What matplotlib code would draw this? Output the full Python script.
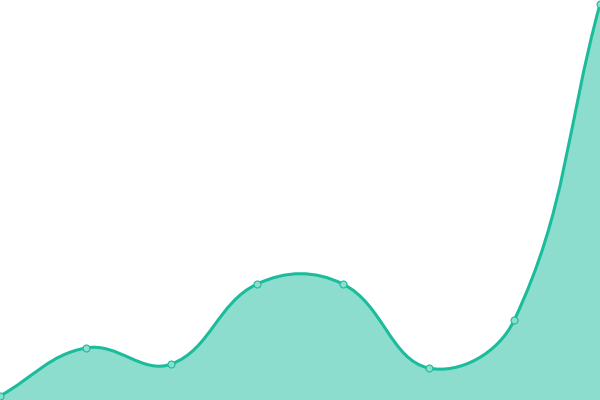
import matplotlib
matplotlib.use("Agg")
import matplotlib.pyplot as plt
import numpy as np
from matplotlib.path import Path
from matplotlib.patches import PathPatch

# data (y axis 0..100, no visible axes)
labels = ["A", "B", "C", "D", "E", "F", "G", "H"]
values = [1, 13, 9, 29, 29, 8, 20, 99]

line_color = "#1abc9c"
tension = 0.4


def spline_path(ax, xs, ys):
    # chart.js-like cubic spline, computed in display space
    pts = ax.transData.transform(np.column_stack([xs, ys]))
    n = len(pts)
    verts = [pts[0]]
    codes = [Path.MOVETO]
    ctrl = []
    for i in range(n):
        prev = pts[max(i - 1, 0)]
        cur = pts[i]
        nxt = pts[min(i + 1, n - 1)]
        d01 = np.hypot(*(cur - prev))
        d12 = np.hypot(*(nxt - cur))
        tot = d01 + d12
        s01 = d01 / tot if tot else 0
        s12 = d12 / tot if tot else 0
        c_prev = cur - tension * s01 * (nxt - prev)
        c_next = cur + tension * s12 * (nxt - prev)
        ctrl.append((c_prev, c_next))
    for i in range(1, n):
        verts += [ctrl[i - 1][1], ctrl[i][0], pts[i]]
        codes += [Path.CURVE4] * 3
    inv = ax.transData.inverted()
    return inv.transform(np.array(verts)), codes


fig = plt.figure(figsize=(6, 4), dpi=100)
ax = fig.add_axes([0, 0, 1, 1])
x = np.arange(len(values))
ax.set_xlim(0, len(values) - 1)
ax.set_ylim(0, 100)
ax.axis("off")

verts, codes = spline_path(ax, x, values)
fill_verts = np.vstack([verts, [[x[-1], 0], [x[0], 0], verts[0]]])
fill_codes = codes + [Path.LINETO, Path.LINETO, Path.CLOSEPOLY]
ax.add_patch(PathPatch(Path(fill_verts, fill_codes), facecolor=line_color,
                       alpha=0.5, edgecolor="none"))
ax.add_patch(PathPatch(Path(verts, codes), facecolor="none",
                       edgecolor=line_color, linewidth=2.2))
ax.plot(x, values, "o", markersize=5, markerfacecolor="#8ae0ce",
        markeredgecolor=line_color, markeredgewidth=0.8)

fig.savefig("out.png", dpi=100)
